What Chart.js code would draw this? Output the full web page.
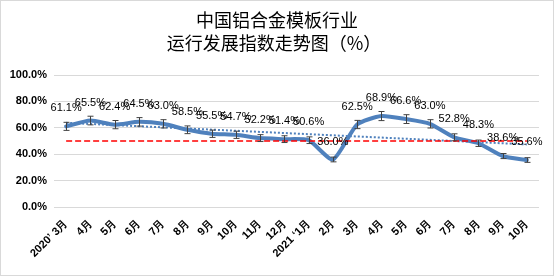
<!DOCTYPE html>
<html>
<head>
<meta charset="utf-8">
<script src="https://cdn.jsdelivr.net/npm/chart.js@4/dist/chart.umd.min.js"></script>
<style>
  html, body { margin: 0; padding: 0; background: #fff; }
  #wrap { width: 556px; height: 278px; }
</style>
</head>
<body>
<div id="wrap"><canvas id="grafico" width="556" height="278"></canvas></div>
<script>
// datos
const meses = [
  "2020’ 3月", "4月", "5月", "6月", "7月", "8月", "9月", "10月", "11月", "12月",
  "2021 ‘1月", "2月", "3月", "4月", "5月", "6月", "7月", "8月", "9月", "10月"
];
const indice = [61.1, 65.5, 62.4, 64.5, 63.0, 58.5, 55.5, 54.7, 52.2, 51.4,
                50.6, 36.0, 62.5, 68.9, 66.6, 63.0, 52.8, 48.3, 38.6, 35.6];
const lineaBase = 50;          // linea roja punteada
const tendenciaInicio = 63.8;  // linea de tendencia (extremos)
const tendenciaFin = 47.4;
const errorPct = 5;            // barras de error, % del valor
const tituloLineas = ["中国铝合金模板行业", "运行发展指数走势图（%）"];

const azul = "#4F81BD";

const baseData = meses.map(() => lineaBase);
const tendencia = meses.map((_, i) => i === 0 ? tendenciaInicio : (i === meses.length - 1 ? tendenciaFin : null));

// titulo + marco
const fondoPlugin = {
  id: "fondo",
  beforeDraw(chart) {
    const ctx = chart.ctx;
    ctx.save();
    ctx.fillStyle = "#fff";
    ctx.fillRect(0, 0, chart.width, chart.height);
    ctx.strokeStyle = "#d9d9d9";
    ctx.lineWidth = 1;
    ctx.strokeRect(0.5, 0.5, 553, 275);
    ctx.fillStyle = "#000";
    ctx.font = "18px 'Noto Sans CJK SC'";
    ctx.textAlign = "center";
    ctx.textBaseline = "middle";
    ctx.fillText(tituloLineas[0], 277, 20);
    ctx.fillText(tituloLineas[1], 274, 43);
    ctx.restore();
  }
};

// barras de error y etiquetas
const etiquetasPlugin = {
  id: "etiquetas",
  afterDatasetsDraw(chart) {
    const ctx = chart.ctx;
    const y = chart.scales.y;
    const meta = chart.getDatasetMeta(0);
    ctx.save();
    ctx.strokeStyle = "#404040";
    ctx.lineWidth = 1;
    meta.data.forEach((p, i) => {
      const v = indice[i];
      const e = v * errorPct / 100;
      const x = Math.round(p.x) + 0.5;
      const y1 = y.getPixelForValue(v + e);
      const y2 = y.getPixelForValue(v - e);
      ctx.beginPath();
      ctx.moveTo(x, y1); ctx.lineTo(x, y2);
      ctx.moveTo(x - 3, y1); ctx.lineTo(x + 3, y1);
      ctx.moveTo(x - 3, y2); ctx.lineTo(x + 3, y2);
      ctx.stroke();
    });
    ctx.fillStyle = "#000";
    ctx.font = "11px 'Liberation Sans'";
    ctx.textAlign = "center";
    ctx.textBaseline = "middle";
    meta.data.forEach((p, i) => {
      ctx.fillText(indice[i].toFixed(1) + "%", p.x, p.y - 18);
    });
    ctx.restore();
  }
};

new Chart(document.getElementById("grafico"), {
  type: "line",
  data: {
    labels: meses,
    datasets: [
      {
        label: "指数",
        data: indice,
        borderColor: azul,
        borderWidth: 4,
        pointRadius: 0,
        tension: 0.2,
        borderJoinStyle: "round",
        borderCapStyle: "round",
        order: 3
      },
      {
        label: "趋势",
        data: tendencia,
        borderColor: azul,
        borderWidth: 2,
        borderDash: [2, 2],
        pointRadius: 0,
        spanGaps: true,
        order: 2
      },
      {
        label: "50%",
        data: baseData,
        borderColor: "#FF0000",
        borderWidth: 1.5,
        borderDash: [6, 3],
        pointRadius: 0,
        order: 1
      }
    ]
  },
  options: {
    responsive: false,
    animation: false,
    layout: { padding: { left: 0, top: 75, right: 17, bottom: 0 } },
    plugins: {
      legend: { display: false },
      title: { display: false },
      tooltip: { enabled: false }
    },
    scales: {
      x: {
        offset: true,
        grid: { display: false },
        border: { display: false },
        ticks: {
          autoSkip: false,
          minRotation: 45,
          maxRotation: 45,
          color: "#000",
          padding: 2,
          font: { family: "'Liberation Sans'", size: 11, weight: "bold" }
        },
        afterFit(scale) { scale.height = 71; }
      },
      y: {
        min: 0,
        max: 100,
        grid: { color: "#d9d9d9", drawTicks: false },
        border: { display: false },
        ticks: {
          stepSize: 10,
          padding: 7,
          color: "#000",
          font: { family: "'Liberation Sans'", size: 11, weight: "bold" },
          callback: v => v.toFixed(1) + "%"
        },
        afterFit(scale) { scale.width = 54; }
      }
    }
  },
  plugins: [fondoPlugin, etiquetasPlugin]
});
</script>
</body>
</html>
